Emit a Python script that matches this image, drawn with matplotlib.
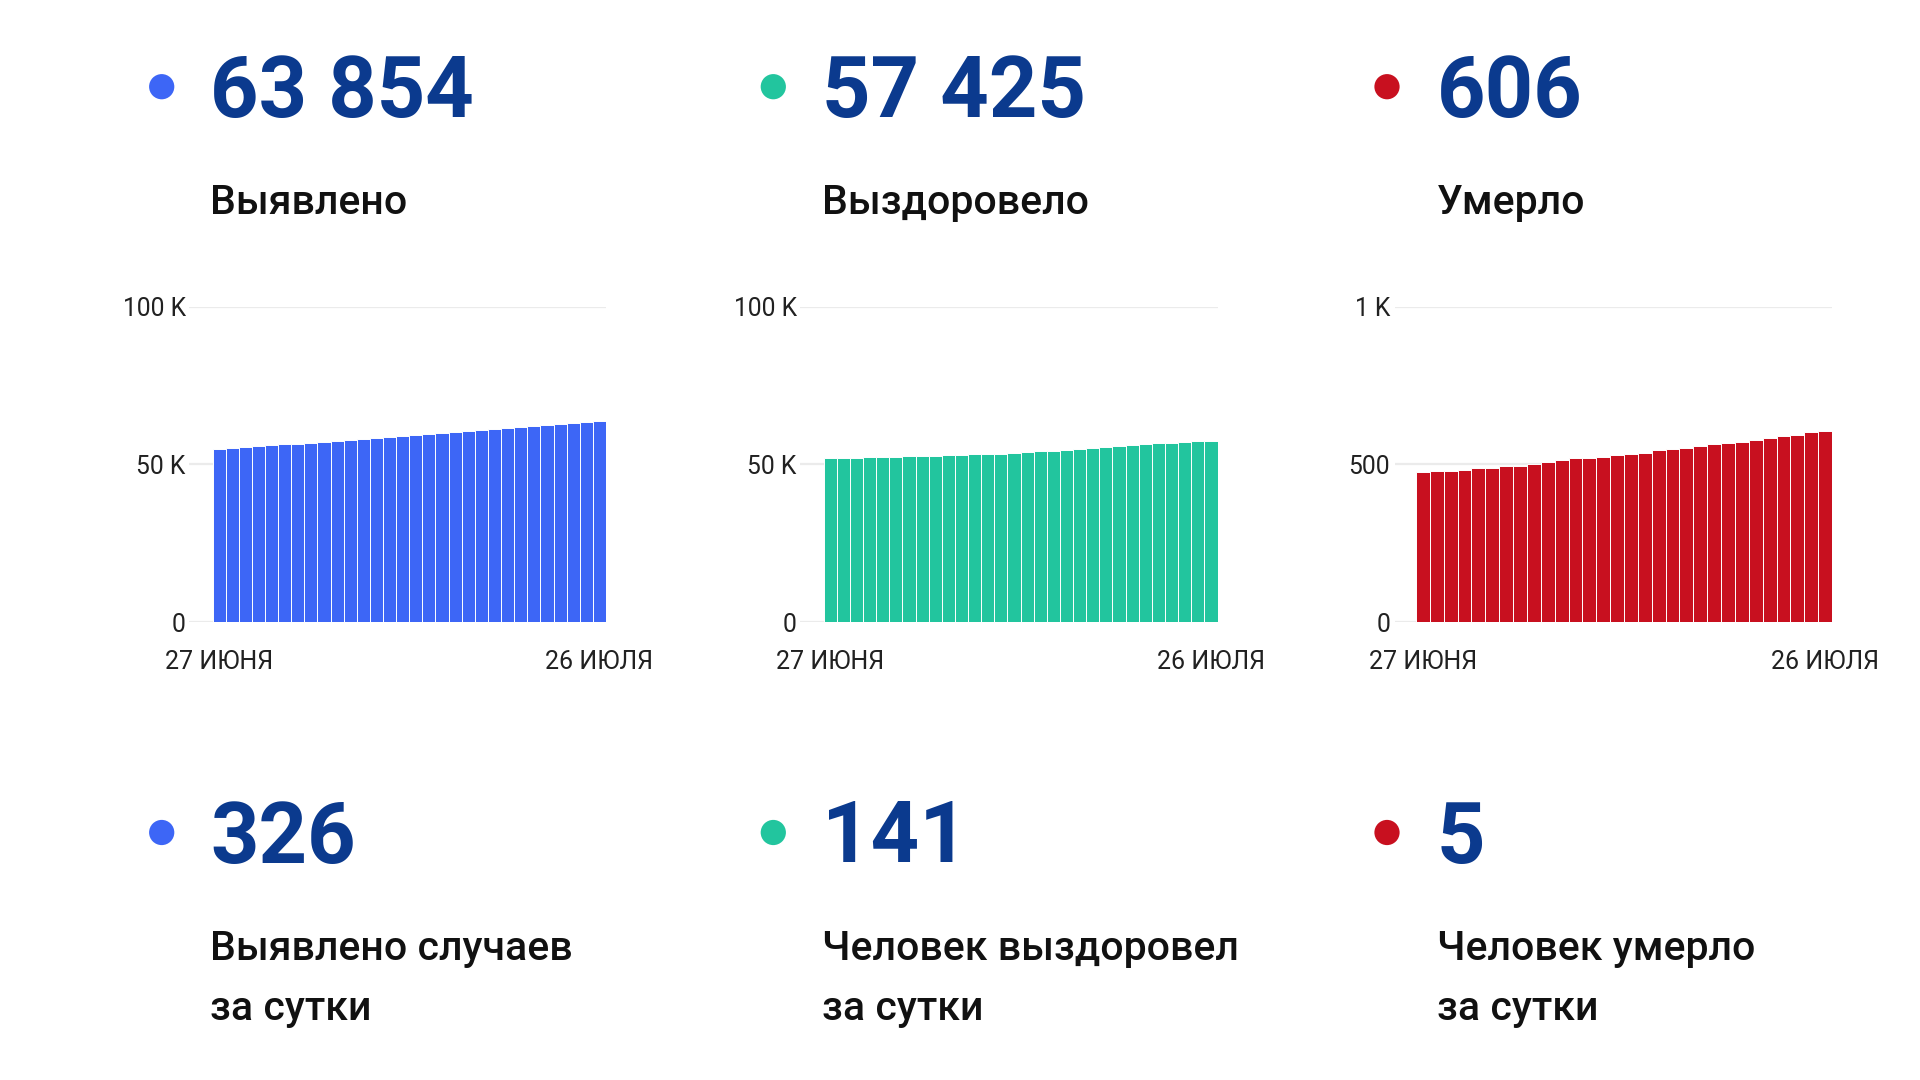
import matplotlib
matplotlib.use("Agg")
import matplotlib.pyplot as plt

plt.rcParams['font.family'] = ['Roboto', 'DejaVu Sans']

# ---------------- data ----------------
date_labels = ["27 ИЮНЯ", "26 ИЮЛЯ"]

cases_total = [54860, 55140, 55430, 55710, 56000, 56280, 56570, 56850, 57140, 57420,
               57710, 58020, 58330, 58640, 58950, 59260, 59570, 59880, 60200, 60510,
               60820, 61150, 61490, 61830, 62170, 62510, 62850, 63190, 63528, 63854]

recovered_total = [51880, 51990, 52100, 52200, 52310, 52420, 52530, 52640, 52750, 52870,
                   52990, 53110, 53240, 53370, 53560, 53800, 54060, 54340, 54620, 54900,
                   55180, 55460, 55740, 56020, 56300, 56580, 56860, 57080, 57284, 57425]

deaths_total = [474, 479, 479, 483, 487, 488, 493, 494, 500, 507,
                513, 519, 520, 524, 528, 533, 537, 545, 549, 553,
                559, 564, 568, 572, 578, 583, 588, 593, 601, 606]

headline_values = ["63 854", "57 425", "606"]
headline_labels = ["Выявлено", "Выздоровело", "Умерло"]
daily_values = ["326", "141", "5"]
daily_labels = [["Выявлено случаев", "за сутки"],
                ["Человек выздоровел", "за сутки"],
                ["Человек умерло", "за сутки"]]

y_ticks = [[0, 50000, 100000], [0, 50000, 100000], [0, 500, 1000]]
y_ticklabels = [["0", "50 K", "100 K"], ["0", "50 K", "100 K"], ["0", "500", "1 K"]]

colors = ["#3d66f6", "#22c59e", "#c8101f"]
num_color = "#0b3a8e"
text_color = "#111111"

W, H = 1920, 1080
fig = plt.figure(figsize=(19.2, 10.8), dpi=100)
fig.patch.set_facecolor("white")

# overlay axes in pixel coordinates for text and bullets
ov = fig.add_axes([0, 0, 1, 1])
ov.set_xlim(0, W)
ov.set_ylim(H, 0)
ov.axis("off")
ov.patch.set_alpha(0)

text_x = [210, 822, 1437]
dot_x = [161.7, 773.3, 1387]

for i in range(3):
    # top row
    ov.scatter([dot_x[i]], [86.7], s=330, color=colors[i], edgecolors="none")
    ov.text(text_x[i], 116.5, headline_values[i], fontsize=61, fontweight="bold",
            color=num_color, va="baseline", ha="left")
    ov.text(text_x[i], 214.5, headline_labels[i], fontsize=29.5, fontweight=500,
            color=text_color, va="baseline", ha="left")
    # bottom row
    ov.scatter([dot_x[i]], [832.5], s=330, color=colors[i], edgecolors="none")
    ov.text(text_x[i], 862.5, daily_values[i], fontsize=61, fontweight="bold",
            color=num_color, va="baseline", ha="left")
    ov.text(text_x[i], 959.5, daily_labels[i][0], fontsize=29.5, fontweight=500,
            color=text_color, va="baseline", ha="left")
    ov.text(text_x[i], 1020, daily_labels[i][1], fontsize=29.5, fontweight=500,
            color=text_color, va="baseline", ha="left")

# chart axes: (grid left px, bars left px, right px)
chart_geom = [(189, 212.5, 606), (800, 823.6, 1217.5), (1395, 1416, 1832)]
series = [cases_total, recovered_total, deaths_total]
y_top_px, y_zero_px = 306.5, 622
ypads = [2.4, 2.4, 3.6]

for i in range(3):
    gl, bl, r = chart_geom[i]
    vals = series[i]
    n = len(vals)
    slot = (r - bl) / n
    extra = (bl - gl) / slot
    ax = fig.add_axes([gl / W, 1 - y_zero_px / H, (r - gl) / W, (y_zero_px - y_top_px) / H])
    ax.bar(range(n), vals, width=1.0, color=colors[i], edgecolor="white", linewidth=0.7)
    ax.set_xlim(-0.5 - extra, n - 0.5)
    ax.set_ylim(y_ticks[i][0], y_ticks[i][-1])
    ax.set_yticks(y_ticks[i])
    ax.set_yticklabels(y_ticklabels[i])
    ax.set_xticks([0, n - 1])
    ax.set_xticklabels(date_labels)
    for s in ax.spines.values():
        s.set_visible(False)
    ax.set_axisbelow(True)
    ax.yaxis.grid(True, color="#ebebeb", linewidth=1.6)
    ax.xaxis.grid(False)
    ax.tick_params(axis="y", length=0, pad=ypads[i], labelsize=17.7, labelcolor="#212121")
    ax.tick_params(axis="x", length=0, pad=20.5, labelsize=18, labelcolor="#212121")
    ax.patch.set_alpha(0)

fig.savefig("out.png", dpi=100)
